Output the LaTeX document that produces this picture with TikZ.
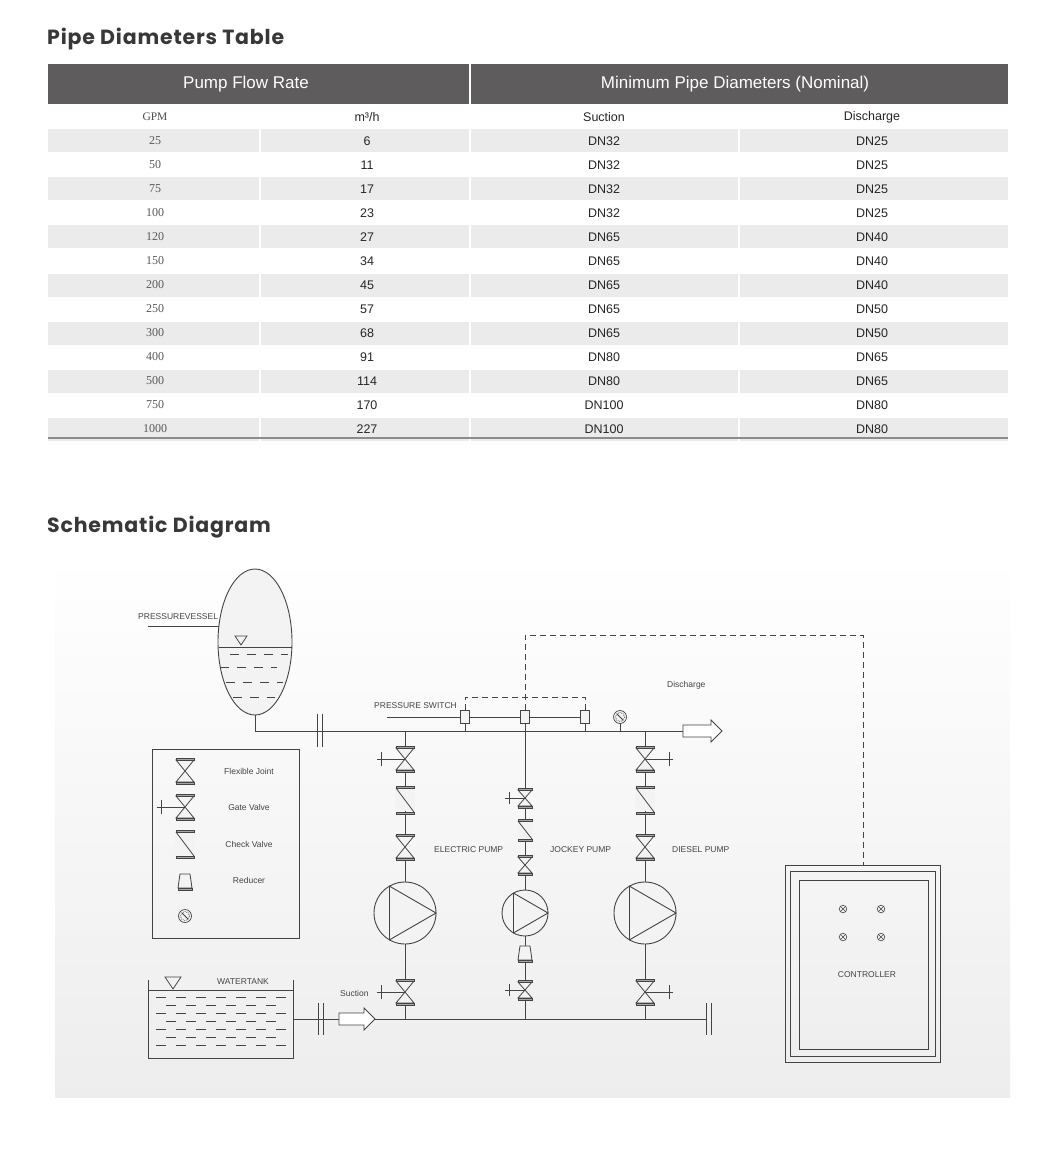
\documentclass[tikz,border=0pt]{standalone}
\usepackage{fontspec}
\setmainfont{Liberation Sans}
\newfontfamily\titlefont[LetterSpace=4]{Poppins}
\newfontfamily\serifnum{Liberation Serif}
\definecolor{hdr}{HTML}{5E5C5D}
\definecolor{rowg}{HTML}{EBEBEB}
\definecolor{bgs}{HTML}{F3F3F3}
\definecolor{ln}{HTML}{444444}
\begin{document}
\begin{tikzpicture}[x=1pt,y=-1pt,
  pipe/.style={draw=ln,line width=0.9pt},
  lbl/.style={font=\fontsize{8.5}{9}\selectfont,text=ln,inner sep=0},
  tt/.style={font=\fontsize{12.5}{13}\selectfont,text=black!85,inner sep=0},
  bowtie/.pic={\draw[ln,line width=0.8pt,fill=bgs] (-9,-11)--(9,11)--(-9,11)--(9,-11)--cycle;
     \draw[ln,fill=black!35,line width=0.6pt] (-9,-13) rectangle (9,-11) (-9,11) rectangle (9,13);},
  sbowtie/.pic={\draw[ln,line width=0.8pt,fill=bgs] (-7,-8)--(7,8)--(-7,8)--(7,-8)--cycle;
     \draw[ln,fill=black!35,line width=0.6pt] (-7,-10) rectangle (7,-8) (-7,8) rectangle (7,10);},
  gatel/.pic={\pic{bowtie}; \draw[ln,line width=0.8pt] (0,0)--(-28,0) (-24,-7)--(-24,7);},
  gater/.pic={\pic{bowtie}; \draw[ln,line width=0.8pt] (0,0)--(28,0) (24,-7)--(24,7);},
  sgatel/.pic={\pic{sbowtie}; \draw[ln,line width=0.8pt] (0,0)--(-20,0) (-16,-6)--(-16,6);},
  check/.pic={\fill[bgs] (-10,-11) rectangle (10,11);
     \draw[ln,fill=black!35,line width=0.6pt] (-9,-14) rectangle (9,-12) (-9,12) rectangle (9,14);
     \draw[ln,line width=0.8pt] (-9,-12)--(9,12);},
  scheck/.pic={\fill[bgs] (-8,-9) rectangle (8,9);
     \draw[ln,fill=black!35,line width=0.6pt] (-7,-11) rectangle (7,-9) (-7,9) rectangle (7,11);
     \draw[ln,line width=0.8pt] (-7,-9)--(7,9);},
  reducer/.pic={\draw[ln,line width=0.8pt,fill=bgs] (-5,-8)--(5,-8)--(7,6)--(-7,6)--cycle;
     \draw[ln,fill=black!35,line width=0.6pt] (-7,6) rectangle (7,8);},
  gauge/.pic={\draw[ln,line width=0.7pt,fill=bgs] (0,0) circle (6.5);
     \draw[ln,line width=0.7pt,densely dotted] (0,0) circle (4.5);
     \draw[ln,line width=0.8pt] (-3,-3)--(3,3);},
  pump/.pic={\draw[ln,line width=0.9pt,fill=bgs] (0,0) circle (\r);
     \draw[ln,line width=0.9pt] (-0.5*\r,-0.866*\r)--(\r,0)--(-0.5*\r,0.866*\r)--cycle;},
]
\useasboundingbox (0,0) rectangle (1060,1158);
\fill[white] (0,0) rectangle (1060,1158);
% ---------- Table ----------
\node[anchor=west,font=\titlefont\bfseries\fontsize{20.5}{22}\selectfont,text=black!78,inner sep=0] (t1) at (47,39) {Pipe Diameters Table};
\fill[hdr] (48,64) rectangle (1008,104);
\fill[white] (469,64) rectangle (471,104);
\node[font=\fontsize{17}{18}\selectfont,text=white] (h1) at (246,84) {Pump Flow Rate};
\node[font=\fontsize{17}{18}\selectfont,text=white] (h2) at (735,84) {Minimum Pipe Diameters (Nominal)};
\node[tt,font=\serifnum\fontsize{11.5}{12}\selectfont,text=black!70] (s1) at (155,117) {GPM};
\node[tt] (s2) at (367,117) {m³/h};
\node[tt] (s3) at (604,117) {Suction};
\node[tt] (s4) at (872,117) {Discharge};
\foreach \i/\g/\m/\s/\d in {1/25/6/32/25,2/50/11/32/25,3/75/17/32/25,4/100/23/32/25,5/120/27/65/40,6/150/34/65/40,7/200/45/65/40,8/250/57/65/50,9/300/68/65/50,10/400/91/80/65,11/500/114/80/65,12/750/170/100/80,13/1000/227/100/80}{
  \pgfmathsetmacro\yc{141+24*(\i-1)}
  \pgfmathtruncatemacro\odd{mod(\i,2)}
  \ifnum\odd=1
    \fill[rowg] (48,\yc-11.5) rectangle (1008,\yc+11.5);
    \fill[white] (258.5,\yc-11.5) rectangle (260.5,\yc+11.5);
    \fill[white] (469,\yc-11.5) rectangle (471,\yc+11.5);
    \fill[white] (738,\yc-11.5) rectangle (740,\yc+11.5);
  \fi
  \node[tt,font=\serifnum\fontsize{12}{12}\selectfont,text=black!65] at (155,\yc) {\g};
  \node[tt] at (367,\yc) {\m};
  \node[tt] at (604,\yc) {DN\s};
  \node[tt] at (872,\yc) {DN\d};
}
\draw[black!45,line width=1.5pt] (48,438) -- (1008,438);
% ---------- Schematic ----------
\node[anchor=west,font=\titlefont\bfseries\fontsize{20.5}{22}\selectfont,text=black!78,inner sep=0] (t2) at (47,527) {Schematic Diagram};
\shade[top color=white,bottom color=black!7] (55,555) rectangle (1010,1097);
% pressure vessel
\draw[ln,line width=0.9pt,fill=bgs] (255,642) ellipse [x radius=37,y radius=73];
\draw[ln,line width=0.8pt] (218.5,647)--(291.5,647);
\draw[ln,line width=0.8pt] (235,636)--(247,636)--(241,645)--cycle;
\draw[ln,line width=0.8pt,dash pattern=on 9pt off 8pt] (230,654)--(288,654) (220,667)--(277,667) (226,682)--(283,682) (233,697)--(275,697);
\node[lbl,anchor=west] (pvl) at (138,617) {PRESSUREVESSEL};
\draw[ln,line width=0.8pt] (148,626)--(219,626);
\coordinate (vb) at (255,715);
% main discharge pipe
\draw[pipe] (vb)--(255,731)--(683,731);
\draw[ln,line width=0.9pt] (317,714)--(317,747) (322,714)--(322,747);
\draw[ln,line width=0.9pt,fill=white] (683,725)--(711,725)--(711,720)--(722,731)--(711,742)--(711,737)--(683,737)--cycle;
\node[lbl,anchor=west] (dl) at (667,685) {Discharge};
% pressure switches
\draw[ln,line width=0.8pt] (470,717)--(520,717) (530,717)--(580,717);
\draw[ln,line width=0.8pt] (387,717)--(460,717);
\node[lbl,anchor=west] (psl) at (374,706) {PRESSURE SWITCH};
\foreach \x/\n in {465/ps1,525/ps2,585/ps3}{
  \draw[pipe] (\x,724)--(\x,731);
  \node[draw=ln,line width=0.8pt,fill=bgs,minimum width=9pt,minimum height=13pt,inner sep=0] (\n) at (\x,717) {};
}
\draw[ln,line width=0.8pt,dash pattern=on 6pt off 4pt] (ps1.north)--(465,697)--(585,697)--(ps3.north);
\draw[ln,line width=0.8pt,dash pattern=on 6pt off 4pt] (ps2.north)--(525,635)--(863,635)--(863,865);
% gauge on discharge
\draw[pipe] (620,724)--(620,731);
\pic at (620,717) {gauge};
% suction pipe
\draw[pipe] (293,1019)--(706,1019);
\draw[ln,line width=0.9pt] (318,1003)--(318,1035) (323,1003)--(323,1035);
\draw[ln,line width=0.9pt] (706,1003)--(706,1035) (711,1003)--(711,1035);
\draw[ln,line width=0.9pt,fill=white] (339,1013)--(364,1013)--(364,1008)--(375,1019)--(364,1030)--(364,1025)--(339,1025)--cycle;
\node[lbl,anchor=west] (sl) at (340,993) {Suction};
% electric pump
\draw[pipe] (405,731)--(405,1019);
\pic at (405,759) {gatel};
\pic at (405,800) {check};
\pic at (405,847) {bowtie};
\def\r{31}\pic at (405,913) {pump};
\pic at (405,992) {gatel};
\node[lbl,anchor=west] (el) at (434,850) {ELECTRIC PUMP};
% jockey pump
\draw[pipe] (ps2.south)--(525,1019);
\pic at (525,798) {sgatel};
\pic at (525,830) {scheck};
\pic at (525,865) {sbowtie};
\def\r{23}\pic at (525,913) {pump};
\pic at (525,954) {reducer};
\pic at (525,990) {sgatel};
\node[lbl,anchor=west] (jl) at (550,850) {JOCKEY PUMP};
% diesel pump
\draw[pipe] (645,731)--(645,1019);
\pic at (645,759) {gater};
\pic at (645,800) {check};
\pic at (645,847) {bowtie};
\def\r{31}\pic at (645,913) {pump};
\pic at (645,992) {gater};
\node[lbl,anchor=west] (dpl) at (672,850) {DIESEL PUMP};
% controller
\draw[ln,line width=0.9pt] (785,865) rectangle (940,1062);
\draw[ln,line width=0.9pt] (790,871) rectangle (935,1056);
\draw[ln,line width=0.9pt] (799,880) rectangle (928,1049);
\foreach \x/\y in {843/909,881/909,843/937,881/937}{
  \draw[ln,line width=0.6pt] (\x,\y) circle (3.8);
  \draw[ln,line width=0.6pt] (\x-2.7,\y-2.7)--(\x+2.7,\y+2.7) (\x-2.7,\y+2.7)--(\x+2.7,\y-2.7);
}
\node[lbl] (cl) at (867,975) {CONTROLLER};
% legend
\draw[ln,line width=0.9pt] (152,749) rectangle (299,938);
\pic at (185,771) {bowtie};
\pic at (185,807) {gatel};
\pic at (185,844) {check};
\pic at (185,882) {reducer};
\pic at (185,916) {gauge};
\node[lbl] (lg1) at (249,771) {Flexible Joint};
\node[lbl] (lg2) at (249,807) {Gate Valve};
\node[lbl] (lg3) at (249,844) {Check Valve};
\node[lbl] (lg4) at (249,880) {Reducer};
% water tank
\draw[ln,line width=0.9pt] (148,980)--(148,1058)--(293,1058)--(293,980);
\draw[ln,line width=0.9pt] (148,990)--(293,990);
\draw[ln,line width=0.8pt] (165,977)--(181,977)--(173,989)--cycle;
\node[lbl,anchor=west] (wl) at (217,982) {WATERTANK};
\foreach \k in {0,...,6}{
  \pgfmathsetmacro\yy{997+8*\k}
  \pgfmathtruncatemacro\od{mod(\k,2)}
  \ifnum\od=0
    \draw[ln,line width=0.7pt,dash pattern=on 10pt off 10pt] (156,\yy)--(288,\yy);
  \else
    \draw[ln,line width=0.7pt,dash pattern=on 10pt off 10pt] (166,\yy)--(280,\yy);
  \fi
}
\end{tikzpicture}
\end{document}
